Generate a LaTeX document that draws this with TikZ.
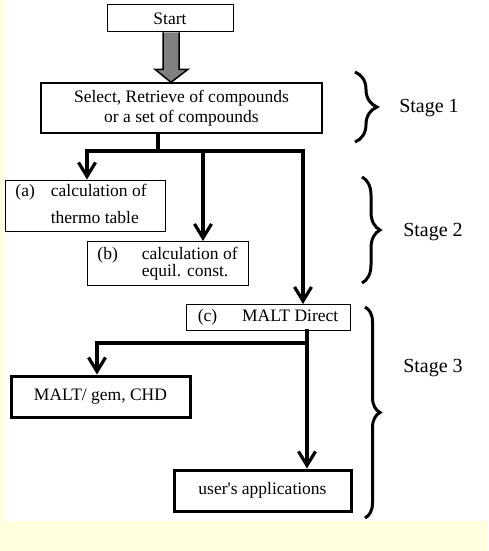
\documentclass[tikz,border=0pt]{standalone}
\usepackage{fontspec}
\setmainfont{Liberation Serif}
\usetikzlibrary{arrows.meta,decorations.pathreplacing,calc}
\definecolor{cream}{HTML}{FFFFE0}
\begin{document}
\begin{tikzpicture}[x=1pt,y=-1pt,
    box/.style={draw,line width=1pt,inner sep=0pt,font=\fontsize{17.5}{20}\selectfont},
    heavybox/.style={box,line width=3pt},
    bigarrow/.style={fill=gray,draw=black,line width=1.5pt,line join=miter},
    flow/.style={line width=3.2pt,line cap=rect,line join=miter,-{Straight Barb[length=14pt,width=17pt]}},
    wire/.style={line width=3.2pt},
    stagebrace/.style={line width=3pt,decorate,decoration={brace,amplitude=#1}},
    stage/.style={font=\fontsize{20}{24}\selectfont}]
            \fill[cream] (0,0) rectangle (488,551);
            \fill[white] (5,0) rectangle (488,521);
            \useasboundingbox (0,0) rectangle (488,551);

            \node[box,minimum width=126pt,minimum height=27pt] (start) at (170,18.5) {Start};
            \node[box,line width=1.4pt,minimum width=281pt,minimum height=50pt,align=center] (select) at (181.5,108) {Select, Retrieve of compounds\\or a set of compounds};
            \node[box,minimum width=160pt,minimum height=51pt] (calcA) at (85,205.5) {\begin{tabular}{@{}l@{\hspace{16pt}}l@{\hspace{8pt}}}(a) & calculation of\\[7pt] & thermo table\end{tabular}};
            \node[box,minimum width=161pt,minimum height=44pt] (calcB) at (167.5,263.5) {\begin{tabular}{@{}l@{\hspace{24pt}}l@{}}(b) & calculation of\\[-3pt] & equil. const.\end{tabular}};
            \node[box,minimum width=164pt,minimum height=26pt] (direct) at (268,317.5) {(c)\hspace{25pt}MALT Direct};
            \node[heavybox,minimum width=179pt,minimum height=41pt] (gem) at (100.5,396.5) {MALT/ gem, CHD};
            \node[heavybox,minimum width=177pt,minimum height=41pt] (apps) at (262.5,490.5) {user\textquotesingle s applications};

            \coordinate (gtop) at ($(start.south)+(1,0)$);
            \coordinate (gtip) at (gtop |- select.north);
            \filldraw[bigarrow] ($(gtop)+(-8,0)$) -- ($(gtip)+(-8,-13)$) -- ($(gtip)+(-16,-13)$) -- (gtip) -- ($(gtip)+(17,-13)$) -- ($(gtip)+(8,-13)$) -- ($(gtop)+(8,0)$);

            \coordinate (split) at (158,151);
            \coordinate (toA) at (87,151);
            \coordinate (toB) at (203,151);
            \coordinate (toC) at (303,151);
            \draw[wire] (split |- select.south) -- (split);
            \draw[flow] (toC) -- (toA) -- (toA |- calcA.north);
            \draw[flow] (toB) -- (toB |- calcB.north);
            \draw[flow] (toC) -- (toC |- direct.north);

            \coordinate (fork) at (307,343);
            \coordinate (toGem) at (97,343);
            \draw[flow] (fork |- direct.south) -- (fork |- apps.north);
            \draw[flow] (fork) -- (toGem) -- (toGem |- gem.north);

            \draw[stagebrace=22pt] (355,72) -- (355,142);
            \node[stage] (stage1) at (429,108) {Stage 1};
            \draw[stagebrace=18pt] (362,177) -- (362,283);
            \node[stage] (stage2) at (433,232) {Stage 2};
            \draw[stagebrace=15pt] (365,307) -- (365,518);
            \node[stage] (stage3) at (433,368) {Stage 3};
        \end{tikzpicture}
\end{document}
